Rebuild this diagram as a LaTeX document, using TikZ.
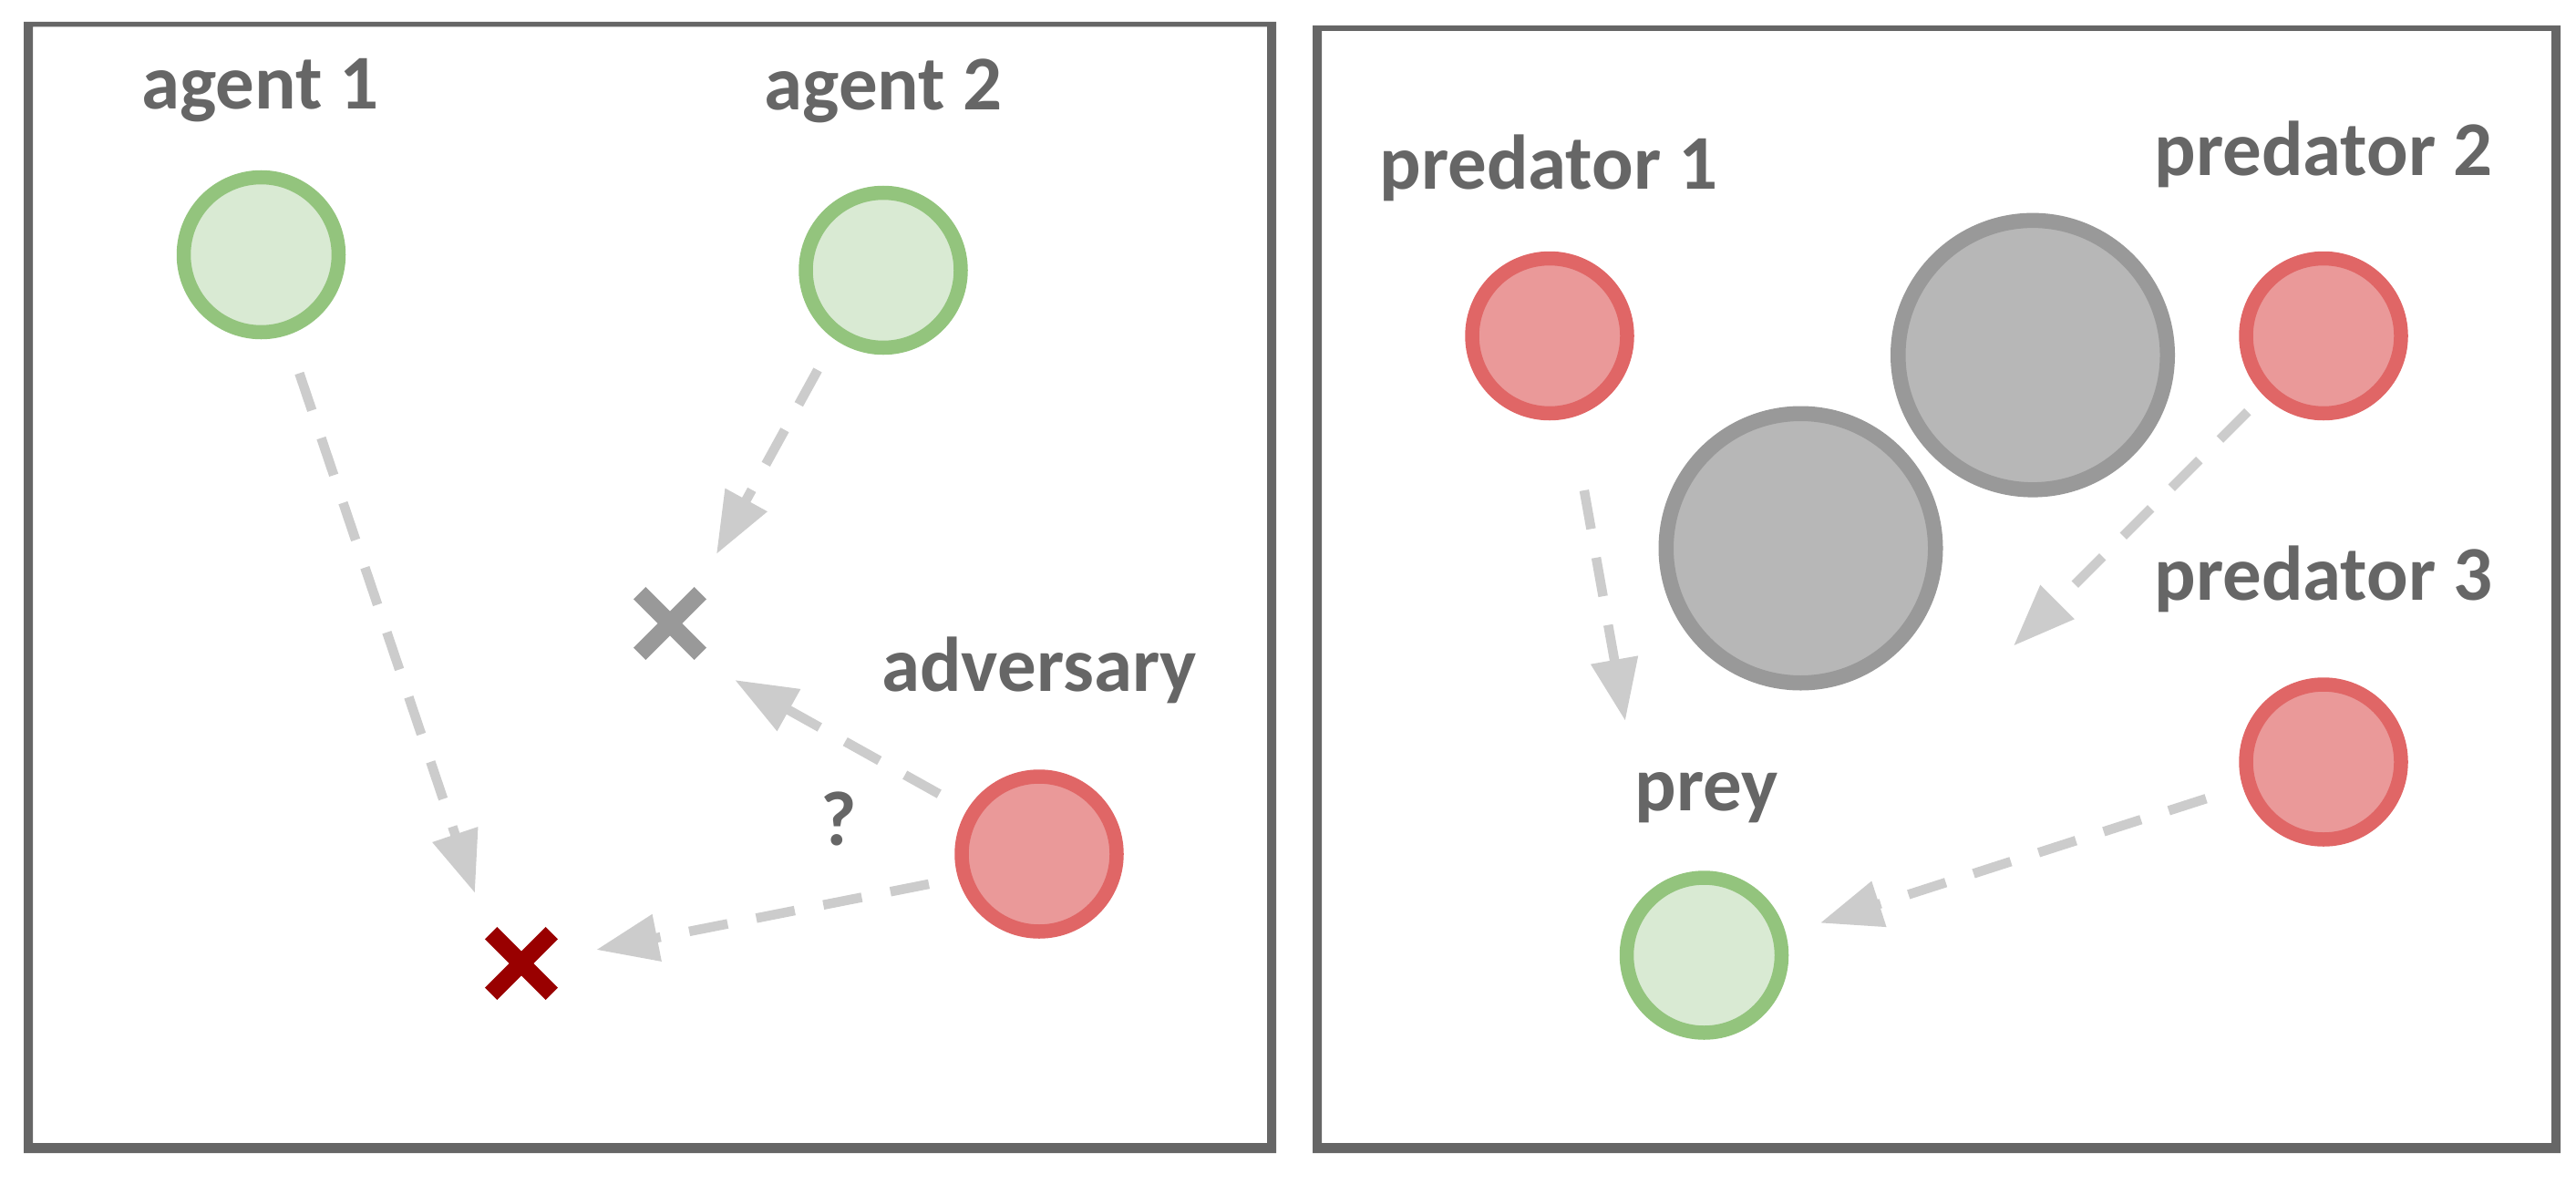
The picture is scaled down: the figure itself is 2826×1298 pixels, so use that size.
\documentclass[tikz,border=0pt]{standalone}
\usepackage{fontspec}
\setmainfont{Carlito}
\usetikzlibrary{arrows.meta,calc,shapes.misc}
\definecolor{txt}{HTML}{666666}
\definecolor{greenfill}{HTML}{D9EAD3}
\definecolor{greenline}{HTML}{93C47D}
\definecolor{redfill}{HTML}{EA9999}
\definecolor{redline}{HTML}{E06666}
\definecolor{obfill}{HTML}{B7B7B7}
\definecolor{obline}{HTML}{999999}
\definecolor{arrowgray}{HTML}{CCCCCC}
\definecolor{xgray}{HTML}{999999}
\definecolor{xred}{HTML}{990000}
\begin{document}
\begin{tikzpicture}[x=1pt,y=-1pt,
  lbl/.style={font=\fontsize{85}{100}\selectfont\bfseries, text=txt, inner sep=0pt, outer sep=0pt, anchor=base},
  good/.style={circle, draw=greenline, fill=greenfill, line width=15.5pt, minimum size=170pt, inner sep=0pt, outer sep=0pt},
  bad/.style={circle, draw=redline, fill=redfill, line width=15.5pt, minimum size=170pt, inner sep=0pt, outer sep=0pt},
  obst/.style={circle, draw=obline, fill=obfill, line width=16.5pt, minimum size=295.5pt, inner sep=0pt, outer sep=0pt},
  goal/.style={cross out, line width=19pt, minimum size=66.6pt, inner sep=0pt, outer sep=0pt},
  move/.style={draw=arrowgray, line width=10.5pt, dash pattern=on 43pt off 32pt, -{Triangle[length=68pt,width=50pt]}},
  panelframe/.style={fill=txt, even odd rule}]
\useasboundingbox (0,0) rectangle (2826,1298);
% panel frames
\path[panelframe] (26,24) rectangle (1400,1265) (36,29.5) rectangle (1390,1254);
\path[panelframe] (1440,28) rectangle (2809,1265) (1450,34) rectangle (2799,1254);
% left panel
\node[good] (a1) at (286.5,279.5) {};
\node[good] (a2) at (969,296.5) {};
\node[bad] (adv) at (1140,937) {};
\node[goal, draw=xgray] (xg) at (735,684) {};
\node[goal, draw=xred] (xr) at (572,1057) {};
\node[lbl] (la1) at (285.5,119) {agent 1};
\node[lbl] (la2) at (969,120) {agent 2};
\node[lbl] (ladv) at (1140,758) {adversary};
\node[lbl] (q) at (920,927) {?};
\draw[move] ($(a1)!136.6pt!-2.3:(xr)$) -- ($(xr)!92.4pt!13.3:(a1)$);
\draw[move] ($(a2)!131pt!-2.2:(xg)$) -- ($(xg)!91.5pt!-2.7:(a2)$);
\draw[move] ($(adv)!128pt!1.0:(xg)$) -- ($(xg)!94.3pt!-9.1:(adv)$);
\draw[move] ($(adv)!125.4pt!3.3:(xr)$) -- ($(xr)!83.4pt!-1.6:(adv)$);
% right panel
\node[bad] (p1) at (1700,368.5) {};
\node[bad] (p2) at (2549,368.5) {};
\node[bad] (p3) at (2549,836) {};
\node[good] (prey) at (1869.5,1048) {};
\node[obst] (o1) at (2230,389.6) {};
\node[obst] (o2) at (1975.5,601.5) {};
\node[lbl] (lp1) at (1699,207) {predator 1};
\node[lbl] (lp2) at (2549,192) {predator 2};
\node[lbl] (lp3) at (2549,658) {predator 3};
\node[lbl] (lprey) at (1872,889) {prey};
\draw[move] ($(p1)!173.7pt!-1.4:(prey)$) -- ($(prey)!271.2pt!4.6:(p1)$);
\draw[move] ($(p2)!117.7pt!(prey)$) -- ($(prey)!480pt!(p2)$);
\draw[move] ($(p3)!135pt!(prey)$) -- ($(prey)!132pt!-1.8:(p3)$);
\end{tikzpicture}
\end{document}
